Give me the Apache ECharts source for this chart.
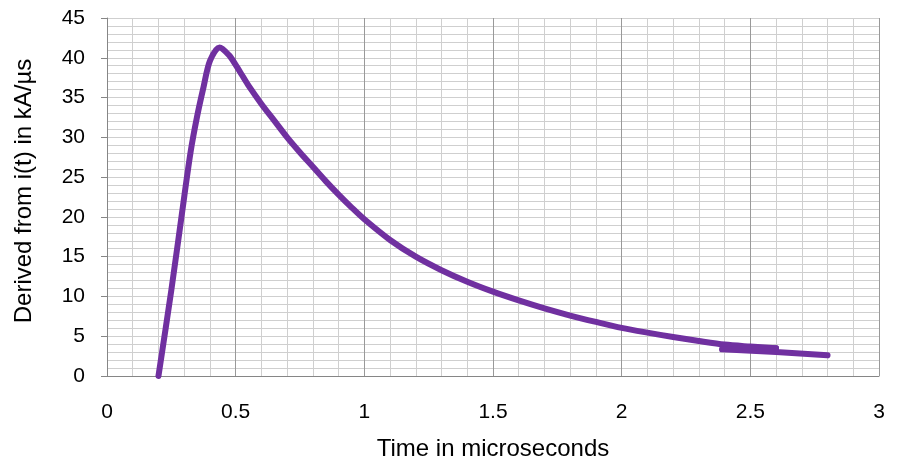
<!DOCTYPE html>
<html>
<head>
<meta charset="utf-8">
<script src="https://cdn.jsdelivr.net/npm/echarts@6/dist/echarts.min.js"></script>
<style>html,body{margin:0;padding:0;background:#fff}#c{width:898px;height:467px}</style>
</head>
<body>
<div id="c"></div>
<script>
// Main curve: time (µs), derivative (kA/µs)
var mainTime = [0.2, 0.25, 0.3, 0.325, 0.35, 0.375, 0.4, 0.4375, 0.475, 0.5, 0.525, 0.55, 0.6, 0.65, 0.7, 0.75, 0.8, 0.85, 0.9, 0.95, 1.0, 1.1, 1.2, 1.3, 1.4, 1.5, 1.6, 1.7, 1.8, 1.9, 2.0, 2.1, 2.2, 2.3, 2.4, 2.5, 2.6];
var mainValue = [0, 10.8, 22.5, 28.2, 32.6, 36.3, 39.6, 41.3, 40.3, 39.1, 37.8, 36.5, 34.2, 32.1, 30.0, 28.1, 26.3, 24.5, 22.8, 21.2, 19.7, 17.1, 15.0, 13.3, 11.85, 10.6, 9.5, 8.5, 7.6, 6.8, 6.05, 5.45, 4.9, 4.4, 3.95, 3.7, 3.48];
// Tail segment that jumps back and continues
var tailTime = [2.6, 2.39, 2.6, 2.8];
var tailValue = [3.48, 3.35, 3.02, 2.6];
var xTicks = [0, 0.5, 1, 1.5, 2, 2.5, 3];
var yTicks = [0, 5, 10, 15, 20, 25, 30, 35, 40, 45];

function pairs(t, v) { return t.map(function (x, i) { return [x, v[i]]; }); }

var font = '"Liberation Sans", Arial, sans-serif';
var chart = echarts.init(document.getElementById('c'), null, { renderer: 'canvas' });
chart.setOption({
  animation: false,
  backgroundColor: '#ffffff',
  grid: { left: 107, right: 19, top: 18, bottom: 91, containLabel: false },
  xAxis: {
    type: 'value', min: xTicks[0], max: xTicks[xTicks.length - 1], interval: 0.5,
    name: 'Time in microseconds', nameLocation: 'middle', nameGap: 61,
    nameTextStyle: { color: '#000', fontSize: 24, fontFamily: font },
    axisLine: { show: true, lineStyle: { color: '#868686', width: 1 } },
    axisTick: { show: false },
    axisLabel: { color: '#000', fontSize: 21, fontFamily: font, margin: 26 },
    splitLine: { show: true, lineStyle: { color: '#999999', width: 1 } },
    minorTick: { show: false, splitNumber: 5 },
    minorSplitLine: { show: true, lineStyle: { color: '#cfcfcf', width: 1 } }
  },
  yAxis: {
    type: 'value', min: yTicks[0], max: yTicks[yTicks.length - 1], interval: 5,
    name: 'Derived from i(t) in kA/µs', nameLocation: 'middle', nameGap: 71,
    nameTextStyle: { color: '#000', fontSize: 24, fontFamily: font, padding: [0, 0, 0, 12] },
    axisLine: { show: true, lineStyle: { color: '#868686', width: 1 } },
    axisTick: { show: true, inside: false, length: 6, lineStyle: { color: '#868686' } },
    axisLabel: { color: '#000', fontSize: 21, fontFamily: font, margin: 22 },
    splitLine: { show: true, lineStyle: { color: '#cfcfcf', width: 1 } },
    minorTick: { show: false, splitNumber: 5 },
    minorSplitLine: { show: true, lineStyle: { color: '#cfcfcf', width: 1 } }
  },
  series: [
    {
      type: 'line', data: pairs(mainTime, mainValue), smooth: 0.3, showSymbol: false,
      lineStyle: { color: '#7030A0', width: 6, cap: 'round', join: 'round' }
    },
    {
      type: 'line', data: pairs(tailTime, tailValue), smooth: false, showSymbol: false,
      lineStyle: { color: '#7030A0', width: 6, cap: 'round', join: 'round' }
    }
  ]
});
</script>
</body>
</html>
